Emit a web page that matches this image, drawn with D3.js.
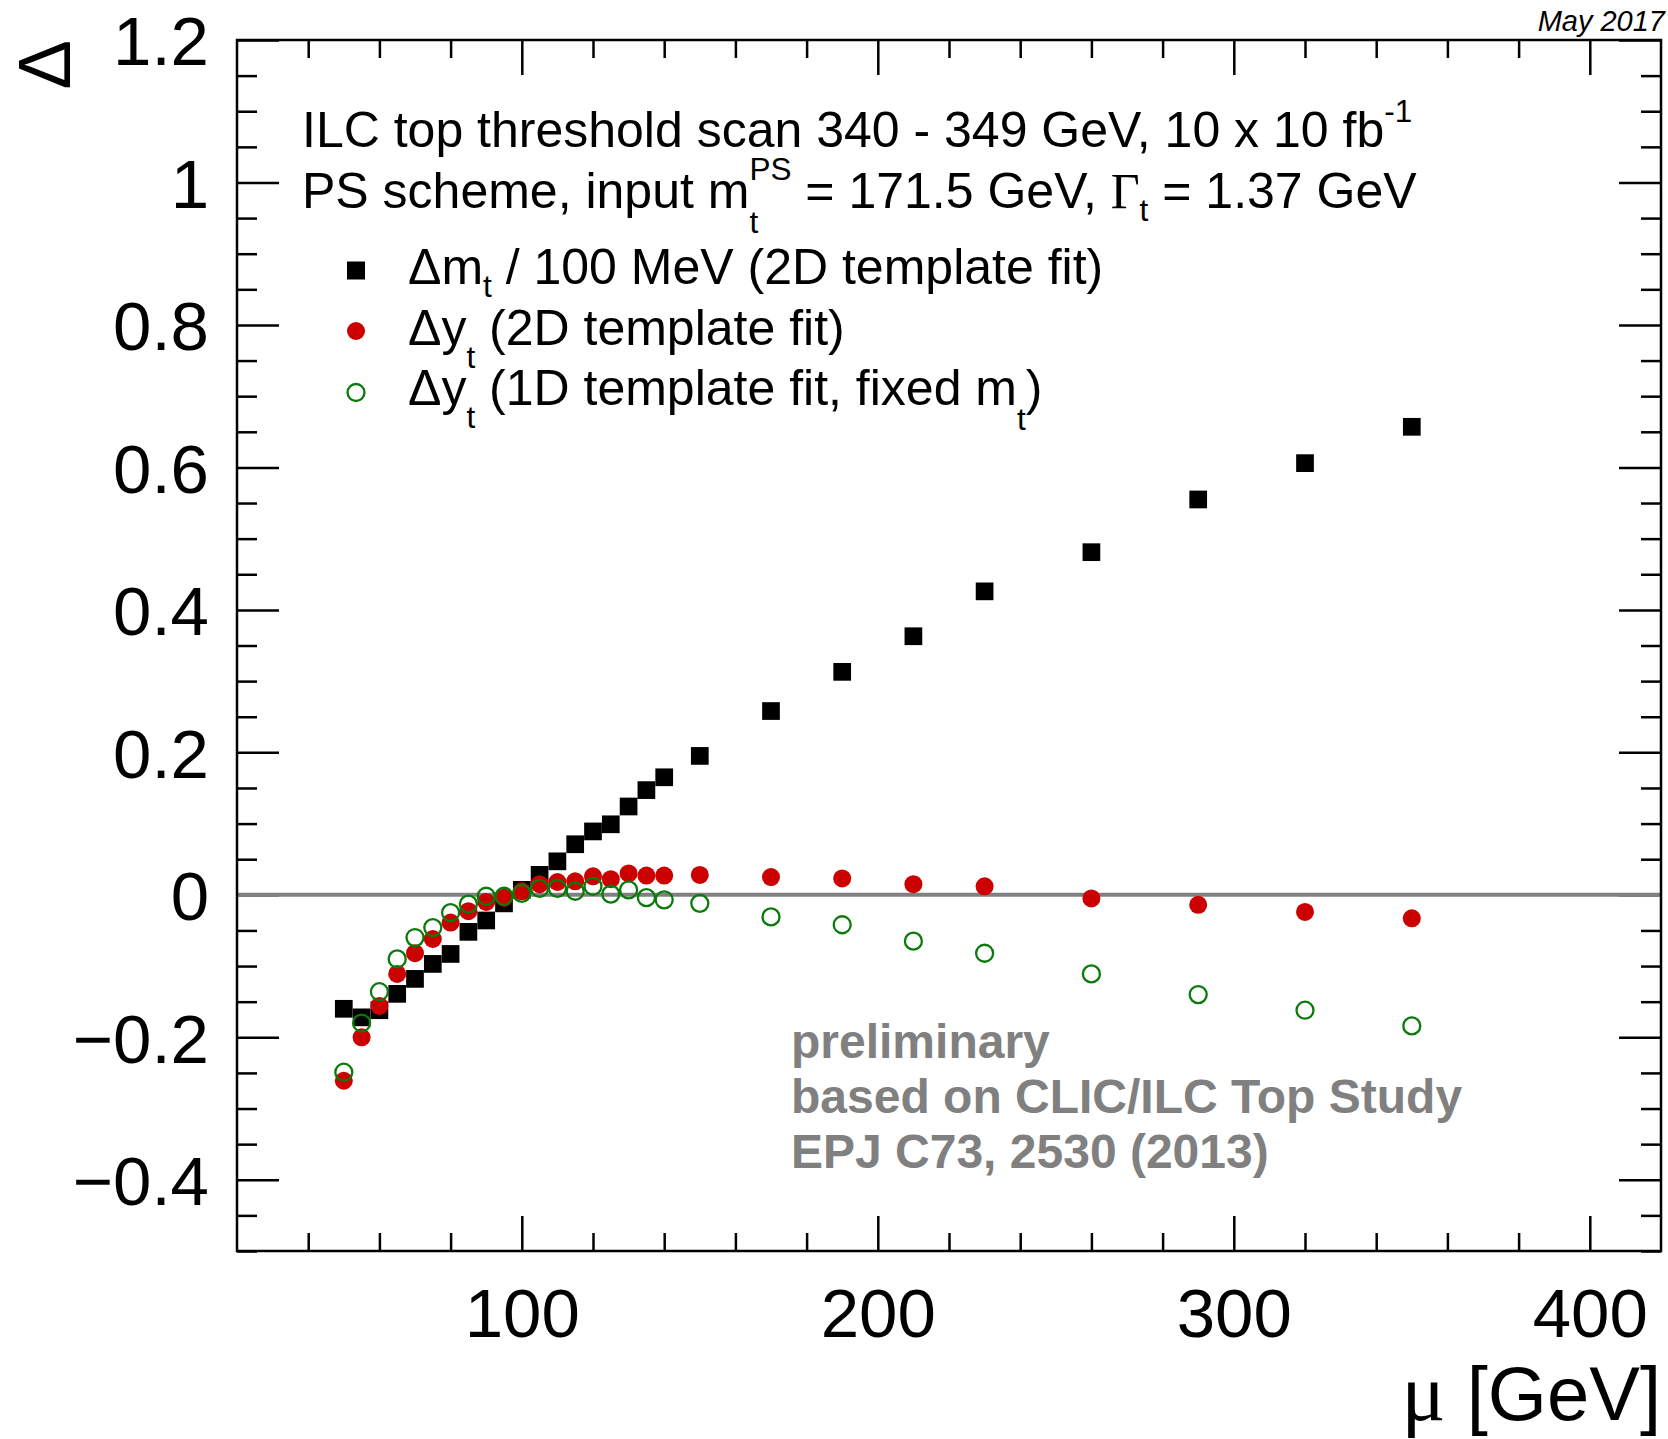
<!DOCTYPE html>
<html>
<head>
<meta charset="utf-8">
<script src="https://cdn.jsdelivr.net/npm/d3@7"></script>
<style>
  body { margin: 0; background: #fff; }
  text { white-space: pre; }
</style>
</head>
<body>
<svg id="chart" width="1668" height="1439"></svg>
<script>
// scale points (mu in GeV)
const mu = [50, 55, 60, 65, 70, 75, 80, 85, 90, 95, 100, 105, 110, 115, 120, 125, 130, 135, 140,
            150, 170, 190, 210, 230, 260, 290, 320, 350]

// delta m_t / 100 MeV, 2D template fit
const dMass = [-0.160, -0.172, -0.162, -0.139, -0.118, -0.097, -0.083, -0.052, -0.036, -0.012,
               0.007, 0.028, 0.047, 0.071, 0.089, 0.099, 0.124, 0.147, 0.165,
               0.195, 0.258, 0.313, 0.363, 0.426, 0.481, 0.555, 0.606, 0.657]

// delta y_t, 2D template fit
const dYuk2D = [-0.261, -0.200, -0.156, -0.111, -0.082, -0.062, -0.039, -0.023, -0.010, -0.004,
                0.005, 0.015, 0.018, 0.019, 0.026, 0.022, 0.030, 0.027, 0.027,
                0.028, 0.025, 0.023, 0.015, 0.012, -0.005, -0.014, -0.024, -0.033]

// delta y_t, 1D template fit with fixed m_t
const dYuk1D = [-0.249, -0.180, -0.136, -0.090, -0.060, -0.046, -0.025, -0.013, -0.002, -0.002,
                0.002, 0.009, 0.009, 0.005, 0.012, 0.001, 0.007, -0.004, -0.007,
                -0.012, -0.031, -0.042, -0.065, -0.082, -0.111, -0.140, -0.162, -0.184]

const xMajorTicks = [100, 200, 300, 400]
const xTickLabels = ["100", "200", "300", "400"]
const yMajorTicks = [-0.4, -0.2, 0, 0.2, 0.4, 0.6, 0.8, 1.0, 1.2]
const yTickLabels = ["\u22120.4", "\u22120.2", "0", "0.2", "0.4", "0.6", "0.8", "1", "1.2"]
const noteLines = ["preliminary", "based on CLIC/ILC Top Study", "EPJ C73, 2530 (2013)"]

const sans = "'Liberation Sans', Arial, Helvetica, sans-serif"
const serif = "'Liberation Serif', 'Times New Roman', serif"

const svg = d3.select("#chart")
const frameL = 237, frameR = 1661, frameT = 40, frameB = 1251

const x = d3.scaleLinear().domain([20, 420]).range([frameL, frameR])
const y = d3.scaleLinear().domain([-0.5, 1.2]).range([frameB, frameT])

const xMinor = d3.range(40, 401, 20).filter(v => !xMajorTicks.includes(v))
const yMinor = d3.range(-10, 25).map(i => +(i * 0.05).toFixed(2)).filter(v => Math.abs(v * 5 - Math.round(v * 5)) > 1e-6)

function addAxis(axis, transform) {
    const g = svg.append("g").attr("transform", transform).call(axis)
    g.select(".domain").remove()
    g.selectAll("line").attr("stroke", "#000").attr("stroke-width", 2.5)
    g.selectAll("text").attr("font-family", sans).attr("font-size", 69).attr("fill", "#000")
    return g
}

// ticks all point inward, like ROOT
addAxis(d3.axisBottom(x).tickValues(xMinor).tickSize(-18).tickFormat(""), `translate(0,${frameB})`)
addAxis(d3.axisBottom(x).tickValues(xMajorTicks).tickSize(-35).tickPadding(37)
          .tickFormat((d, i) => xTickLabels[i]), `translate(0,${frameB})`)
addAxis(d3.axisTop(x).tickValues(xMinor).tickSize(-18).tickFormat(""), `translate(0,${frameT})`)
addAxis(d3.axisTop(x).tickValues(xMajorTicks).tickSize(-35).tickFormat(""), `translate(0,${frameT})`)

addAxis(d3.axisLeft(y).tickValues(yMinor).tickSize(-20).tickFormat(""), `translate(${frameL},0)`)
addAxis(d3.axisLeft(y).tickValues(yMajorTicks).tickSize(-42).tickPadding(28)
          .tickFormat((d, i) => yTickLabels[i]), `translate(${frameL},0)`)
  .selectAll("text").attr("dy", "0.36em")
addAxis(d3.axisRight(y).tickValues(yMinor).tickSize(-20).tickFormat(""), `translate(${frameR},0)`)
addAxis(d3.axisRight(y).tickValues(yMajorTicks).tickSize(-42).tickFormat(""), `translate(${frameR},0)`)

// zero line
svg.append("line")
    .attr("x1", x(20)).attr("x2", x(420))
    .attr("y1", y(0)).attr("y2", y(0))
    .attr("stroke", "#808080").attr("stroke-width", 4)

// markers
const sq = 17.7
svg.append("g").selectAll("rect")
    .data(mu.map((m, i) => [m, dMass[i]]))
    .join("rect")
    .attr("x", d => x(d[0]) - sq / 2).attr("y", d => y(d[1]) - sq / 2)
    .attr("width", sq).attr("height", sq)
    .attr("fill", "#000")

svg.append("g").selectAll("circle")
    .data(mu.map((m, i) => [m, dYuk2D[i]]))
    .join("circle")
    .attr("cx", d => x(d[0])).attr("cy", d => y(d[1])).attr("r", 9)
    .attr("fill", "#cc0000")

svg.append("g").selectAll("circle")
    .data(mu.map((m, i) => [m, dYuk1D[i]]))
    .join("circle")
    .attr("cx", d => x(d[0])).attr("cy", d => y(d[1])).attr("r", 8.5)
    .attr("fill", "none").attr("stroke", "#0a7a0a").attr("stroke-width", 2.3)

// frame
svg.append("rect")
    .attr("x", frameL).attr("y", frameT)
    .attr("width", frameR - frameL).attr("height", frameB - frameT)
    .attr("fill", "none").attr("stroke", "#000").attr("stroke-width", 2.5)

// rich text as tspans of one text element; strings sit on the baseline,
// objects hold sub / sup / symbol runs. lines: [[x, y, parts], ...]
function richText(lines, size) {
    const text = svg.append("text").attr("font-family", sans).attr("font-size", size).attr("fill", "#000")
    const small = size * 0.63
    const run = (s, px, py, fsz, fam) => {
        const t = text.append("tspan").attr("x", px).attr("y", py).attr("font-size", fsz).text(s)
        if (fam) t.attr("font-family", fam)
        return t.node().getComputedTextLength()
    }
    lines.forEach(([x0, y0, parts]) => {
        let cx = x0
        parts.forEach(p => {
            if (typeof p === "string") { cx += run(p, cx, y0, size); return }
            if (p.sym) { cx += run(p.sym, cx, y0, size, serif); return }
            let w = 0
            if (p.sub) w = Math.max(w, run(p.sub, cx, y0 + p.drop, small))
            if (p.sup) w = Math.max(w, run(p.sup, cx, y0 - p.rise, small))
            cx += w
        })
    })
    return text
}

const fs = 50
richText([
    [302, 147, ["ILC top threshold scan 340 - 349 GeV, 10 x 10 fb", { sup: "-1", rise: 25 }]],
    [302, 208, ["PS scheme, input m", { sub: "t", drop: 25, sup: "PS", rise: 28 },
                " = 171.5 GeV, ", { sym: "\u0393" }, { sub: "t", drop: 13 }, " = 1.37 GeV"]]
], fs)

// legend
const legX = 356, legTextX = 408
richText([[legTextX, 284, ["\u0394m", { sub: "t", drop: 13 }, " / 100 MeV (2D template fit)"]]], fs)
richText([[legTextX, 345, ["\u0394y", { sub: "t", drop: 23 }, " (2D template fit)"]]], fs)
richText([[legTextX, 405, ["\u0394y", { sub: "t", drop: 23 }, " (1D template fit, fixed m", { sub: "t", drop: 25 }, ")"]]], fs)

svg.append("rect").attr("x", legX - 9).attr("y", 270.5 - 9).attr("width", 18).attr("height", 18).attr("fill", "#000")
svg.append("circle").attr("cx", legX).attr("cy", 331).attr("r", 9).attr("fill", "#cc0000")
svg.append("circle").attr("cx", legX).attr("cy", 392.5).attr("r", 8.5)
    .attr("fill", "none").attr("stroke", "#0a7a0a").attr("stroke-width", 2.3)

// grey note
svg.append("g").selectAll("text")
    .data(noteLines)
    .join("text")
    .attr("x", 791).attr("y", (d, i) => 1058 + i * 55)
    .attr("font-family", sans).attr("font-weight", "bold").attr("font-size", 48)
    .attr("fill", "#808080")
    .text(d => d)

// axis titles
svg.append("text")
    .attr("x", frameR).attr("y", 1420)
    .attr("text-anchor", "end")
    .attr("font-family", sans).attr("font-size", 76)
    .call(t => {
        t.append("tspan").attr("font-family", serif).attr("font-size", 82).text("\u03bc")
        t.append("tspan").text(" [GeV]")
    })

svg.append("text")
    .attr("transform", "translate(70,40) rotate(-90)")
    .attr("text-anchor", "end")
    .attr("font-family", sans).attr("font-size", 74)
    .text("\u0394")

svg.append("text")
    .attr("x", 1665).attr("y", 31)
    .attr("text-anchor", "end")
    .attr("font-family", sans).attr("font-style", "italic").attr("font-size", 29)
    .text("May 2017")
</script>
</body>
</html>
